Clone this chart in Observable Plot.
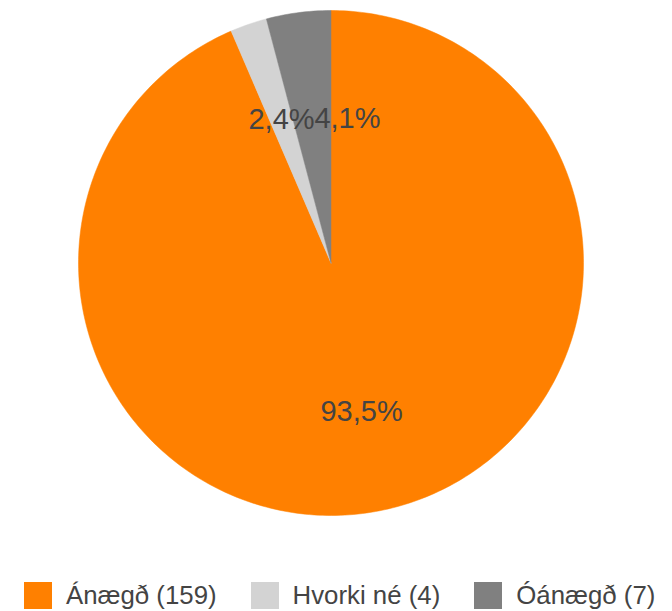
<!DOCTYPE html>
<html>
<head>
<meta charset="utf-8">
<script src="https://cdn.jsdelivr.net/npm/d3@7"></script>
<script src="https://cdn.jsdelivr.net/npm/@observablehq/plot@0.6"></script>
<style>
  html, body { margin: 0; padding: 0; background: #fff; }
  body { width: 672px; height: 611px; overflow: hidden; font-family: "Liberation Sans", Arial, sans-serif; }
  #legend { display: flex; align-items: center; height: 28px; margin-top: 9px; padding-left: 24px; }
  .item { display: flex; align-items: center; margin-right: 34px; }
  .sw { width: 28px; height: 27px; margin-right: 14px; }
  .lab { font-size: 25.8px; color: #444; white-space: nowrap; }
</style>
</head>
<body>
<div id="chart"></div>
<div id="legend"></div>
<script>
const categories = ["Ánægð", "Hvorki né", "Óánægð"];
const counts = [159, 4, 7];
const percentLabels = ["93,5%", "2,4%", "4,1%"];
const colors = ["#ff8000", "#d3d3d3", "#808080"];

const W = 672, H = 572;
const cx = 330.5, cy = 262.5, R = 252.5;

const data = categories.map((c, i) => ({key: c, value: counts[i], label: percentLabels[i]}));
const arcs = d3.pie().sort(null).value(d => d.value)(data);

// slice polygons in data space (unit circle, y up), one point per degree
const pts = [];
arcs.forEach(a => {
  pts.push({key: a.data.key, x: 0, y: 0});
  const n = Math.max(2, Math.ceil((a.endAngle - a.startAngle) / (Math.PI / 180)));
  for (let k = 0; k <= n; k++) {
    const t = a.startAngle + (a.endAngle - a.startAngle) * k / n;
    pts.push({key: a.data.key, x: Math.sin(t), y: Math.cos(t)});
  }
  pts.push({key: a.data.key, x: 0, y: 0});
});

const labelR = 0.6;
const labels = arcs.map(a => {
  const m = (a.startAngle + a.endAngle) / 2;
  return {key: a.data.key, label: a.data.label, x: labelR * Math.sin(m), y: labelR * Math.cos(m)};
});

const chart = Plot.plot({
  width: W,
  height: H,
  margin: 0,
  x: {domain: [-cx / R, (W - cx) / R], axis: null},
  y: {domain: [-(H - cy) / R, cy / R], axis: null},
  color: {domain: categories, range: colors},
  style: {fontFamily: "'Liberation Sans', Arial, sans-serif", background: "#fff"},
  marks: [
    Plot.line(pts, {x: "x", y: "y", z: "key", fill: "key", stroke: "key", strokeWidth: 0.5, curve: "linear"}),
    Plot.text(labels.filter(d => d.key !== "Óánægð"), {x: "x", y: "y", text: "label", fontSize: 29, fill: "#444"}),
    // small adjacent slice: label nudged to avoid overlapping its neighbour
    Plot.text(labels.filter(d => d.key === "Óánægð"), {x: "x", y: "y", text: "label", fontSize: 29, fill: "#444", dx: 36, dy: 6})
  ]
});
document.getElementById("chart").appendChild(chart);

const legend = document.getElementById("legend");
data.forEach((d, i) => {
  const item = document.createElement("div");
  item.className = "item";
  const sw = document.createElement("div");
  sw.className = "sw";
  sw.style.background = colors[i];
  const lab = document.createElement("span");
  lab.className = "lab";
  lab.textContent = `${d.key} (${d.value})`;
  item.appendChild(sw);
  item.appendChild(lab);
  legend.appendChild(item);
});
</script>
</body>
</html>
